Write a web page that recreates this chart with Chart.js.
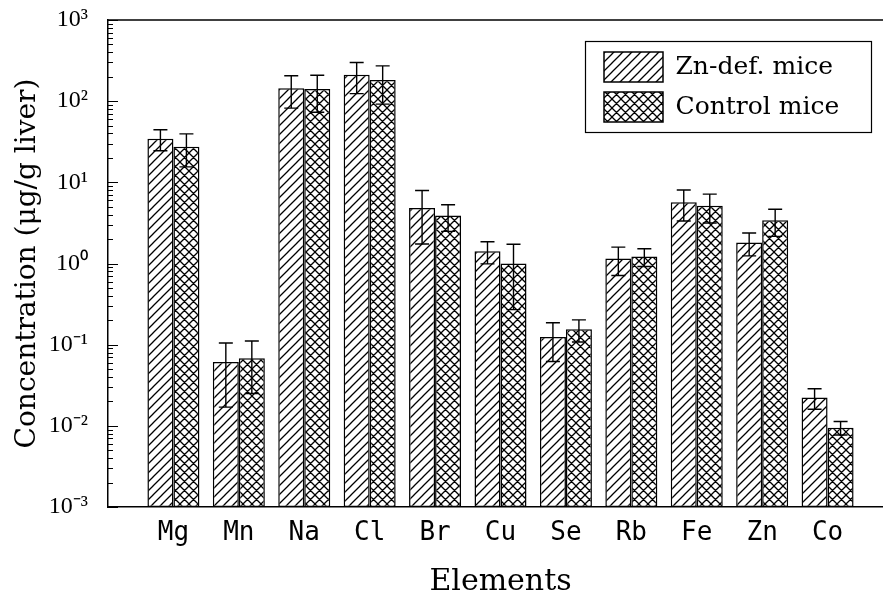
<!DOCTYPE html>
<html>
<head>
<meta charset="utf-8">
<script src="https://cdn.jsdelivr.net/npm/chart.js@4"></script>
<style>
  html, body { margin: 0; padding: 0; background: #fff; overflow: hidden; }
  #wrap { width: 900px; height: 597px; }
</style>
</head>
<body>
<div id="wrap"><canvas id="elementChart" width="900" height="597"></canvas></div>
<script>
// element concentrations in liver, ug/g
const elements = ["Mg", "Mn", "Na", "Cl", "Br", "Cu", "Se", "Rb", "Fe", "Zn", "Co"];
const zincDefMean = [34.5, 0.061, 144, 212, 4.84, 1.42, 0.124, 1.15, 5.69, 1.81, 0.0223];
const zincDefErr  = [10, 0.044, 62, 88, 3.1, 0.43, 0.062, 0.44, 2.35, 0.57, 0.0063];
const controlMean = [27.5, 0.068, 141, 182, 3.89, 1.0, 0.155, 1.22, 5.16, 3.41, 0.0095];
const controlErr  = [12, 0.043, 68, 90, 1.4, 0.73, 0.047, 0.3, 2.0, 1.25, 0.0018];
const yTickValues = [0.001, 0.01, 0.1, 1, 10, 100, 1000];
const yTickLabels = ["10\u207B\u00B3", "10\u207B\u00B2", "10\u207B\u00B9", "10\u2070", "10\u00B9", "10\u00B2", "10\u00B3"];

function hatch(kind) {
    const s = 9;
    const c = document.createElement('canvas');
    c.width = s; c.height = s;
    const g = c.getContext('2d');
    g.fillStyle = '#fff';
    g.fillRect(0, 0, s, s);
    g.strokeStyle = '#000';
    g.lineWidth = 1.3;
    g.beginPath();
    g.moveTo(-1, s + 1); g.lineTo(s + 1, -1);
    g.moveTo(-2, 2); g.lineTo(2, -2);
    g.moveTo(s - 2, s + 2); g.lineTo(s + 2, s - 2);
    if (kind === 'cross') {
        g.moveTo(-1, -1); g.lineTo(s + 1, s + 1);
        g.moveTo(-2, s - 2); g.lineTo(2, s + 2);
        g.moveTo(s - 2, -2); g.lineTo(s + 2, 2);
    }
    g.stroke();
    return g.createPattern(c, 'repeat');
}

const pad = arr => [null].concat(arr, [null]);

const errorBars = {
    id: 'errorBars',
    afterDatasetsDraw(chart) {
        const ctx = chart.ctx;
        const y = chart.scales.y;
        ctx.save();
        ctx.strokeStyle = '#000';
        ctx.lineWidth = 1.4;
        chart.data.datasets.forEach((ds, di) => {
            const meta = chart.getDatasetMeta(di);
            meta.data.forEach((bar, i) => {
                const v = ds.data[i];
                if (v == null) return;
                const e = ds.errors[i];
                const top = y.getPixelForValue(v + e);
                const bot = y.getPixelForValue(Math.max(v - e, y.min));
                const x = bar.x;
                ctx.beginPath();
                ctx.moveTo(x, top); ctx.lineTo(x, bot);
                ctx.moveTo(x - 7, top); ctx.lineTo(x + 7, top);
                ctx.moveTo(x - 7, bot); ctx.lineTo(x + 7, bot);
                ctx.stroke();
            });
        });
        ctx.restore();
    }
};

// frame line on top, inward log ticks on the left axis, legend box
const frame = {
    id: 'frame',
    afterLayout(chart) {
        const lg = chart.legend;
        lg.left = 594; lg.top = 42;
        lg.right = lg.left + 285; lg.bottom = lg.top + 90;
    },
    afterDraw(chart) {
        const ctx = chart.ctx;
        const a = chart.chartArea;
        const y = chart.scales.y;
        ctx.save();
        ctx.strokeStyle = '#000';
        ctx.lineWidth = 1.5;
        ctx.beginPath();
        ctx.moveTo(a.left, a.top); ctx.lineTo(a.right, a.top);
        ctx.stroke();
        ctx.lineWidth = 1;
        ctx.beginPath();
        yTickValues.forEach((d, i) => {
            const py = Math.round(y.getPixelForValue(d)) + 0.5;
            ctx.moveTo(a.left, py); ctx.lineTo(a.left + 10, py);
            if (i < yTickValues.length - 1) {
                for (let k = 2; k <= 9; k++) {
                    const my = Math.round(y.getPixelForValue(d * k)) + 0.5;
                    ctx.moveTo(a.left, my); ctx.lineTo(a.left + 5, my);
                }
            }
        });
        ctx.stroke();
        ctx.lineWidth = 1.2;
        ctx.strokeRect(585.5, 41.5, 286, 91);
        ctx.restore();
    }
};

Chart.defaults.color = '#000';

const ctx = document.getElementById('elementChart').getContext('2d');
const elementChart = new Chart(ctx, {
    type: 'bar',
    data: {
        labels: [''].concat(elements, ['']),
        datasets: [
            {
                label: 'Zn-def. mice',
                data: pad(zincDefMean),
                errors: pad(zincDefErr),
                backgroundColor: hatch('single'),
                borderColor: '#000',
                borderWidth: 1.5,
                borderSkipped: false
            },
            {
                label: 'Control mice',
                data: pad(controlMean),
                errors: pad(controlErr),
                backgroundColor: hatch('cross'),
                borderColor: '#000',
                borderWidth: 1.5,
                borderSkipped: false
            }
        ]
    },
    options: {
        responsive: false,
        animation: false,
        layout: { padding: { top: 20, right: 7, left: 0, bottom: 0 } },
        datasets: { bar: { categoryPercentage: 0.795, barPercentage: 1 } },
        plugins: {
            tooltip: { enabled: false },
            legend: {
                position: 'chartArea',
                align: 'start',
                labels: {
                    boxWidth: 59,
                    boxHeight: 30,
                    padding: 10,
                    font: { family: '"DejaVu Serif"', size: 25 }
                }
            }
        },
        scales: {
            x: {
                offset: false,
                grid: { display: false, drawTicks: false },
                border: { display: true, color: '#000', width: 1.5 },
                ticks: {
                    autoSkip: false,
                    maxRotation: 0,
                    padding: 11,
                    font: { family: '"DejaVu Sans Mono"', size: 26 }
                },
                title: {
                    display: true,
                    text: 'Elements',
                    padding: { top: 0, bottom: 0 },
                    font: { family: '"DejaVu Serif"', size: 30, lineHeight: 1 }
                },
                afterFit: s => { s.height = 90; s.paddingLeft = 0; s.paddingRight = 0; }
            },
            y: {
                type: 'logarithmic',
                min: 0.001,
                max: 1000,
                grid: { display: false, drawTicks: false },
                border: { display: true, color: '#000', width: 1.5 },
                afterBuildTicks: s => { s.ticks = yTickValues.map(v => ({ value: v, major: true })); },
                ticks: {
                    autoSkip: false,
                    padding: 20,
                    font: { family: '"Liberation Serif"', size: 24 },
                    callback: (value, index) => yTickLabels[index]
                },
                title: {
                    display: true,
                    text: 'Concentration (\u03BCg/g liver)',
                    padding: { top: 14, bottom: 0 },
                    font: { family: '"DejaVu Serif"', size: 28, lineHeight: 1 }
                },
                afterFit: s => { s.width = 108; s.paddingTop = 0; s.paddingBottom = 0; }
            }
        }
    },
    plugins: [errorBars, frame]
});
</script>
</body>
</html>
